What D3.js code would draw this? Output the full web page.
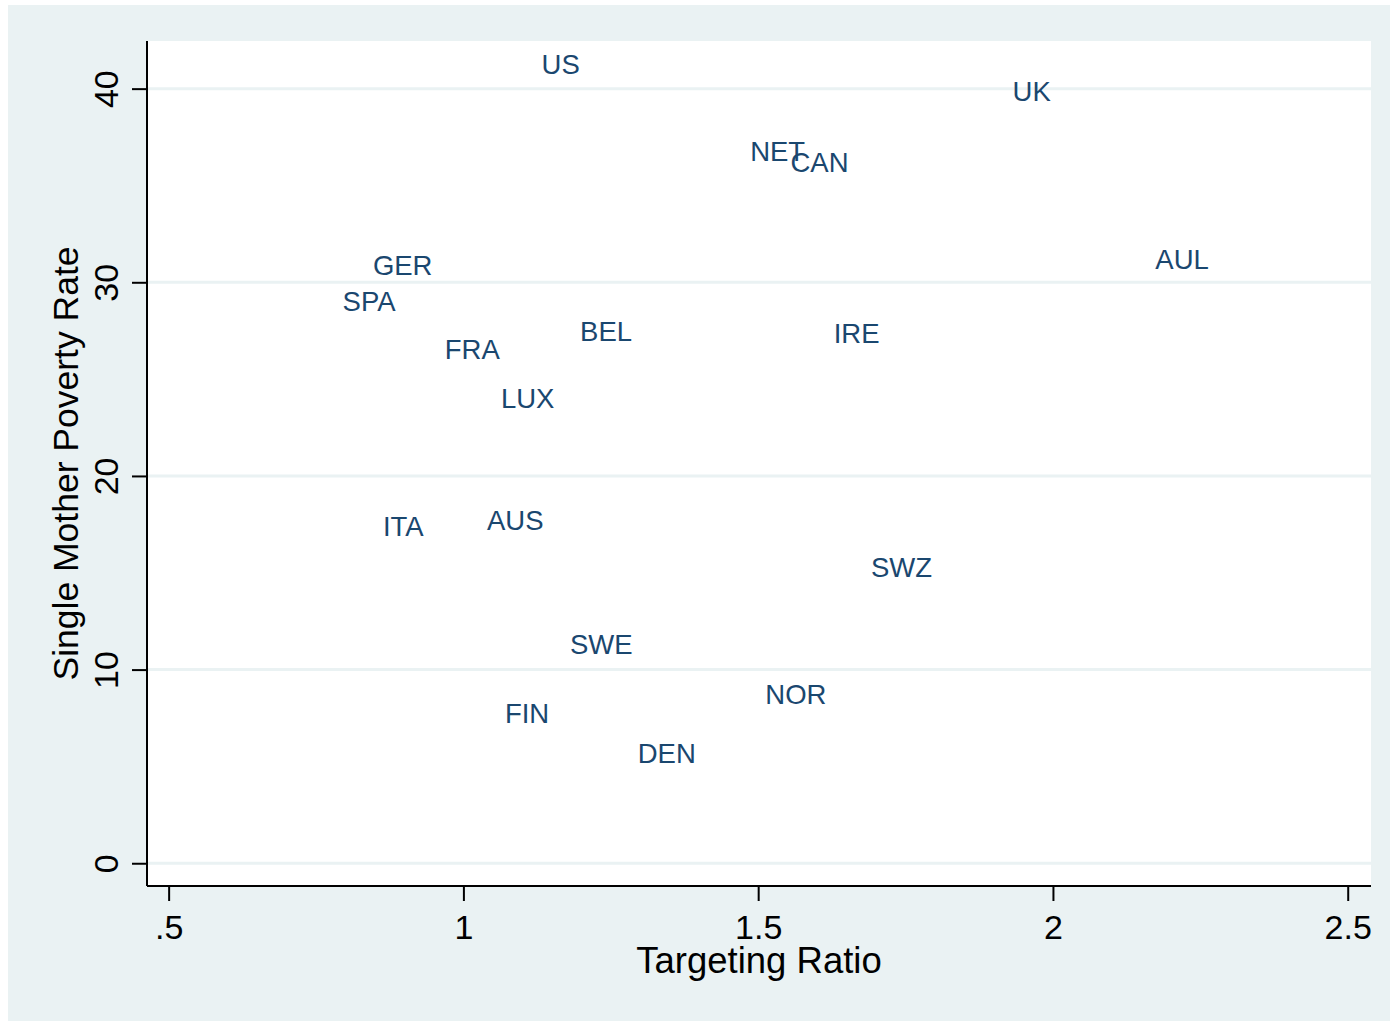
<!DOCTYPE html>
<html>
<head>
<meta charset="utf-8">
<script src="https://cdn.jsdelivr.net/npm/d3@7"></script>
<style>
  html, body { margin: 0; padding: 0; background: #ffffff; }
  svg { display: block; font-family: "Liberation Sans", Arial, Helvetica, sans-serif; }
</style>
</head>
<body>
<svg id="chart" width="1390" height="1021"></svg>
<script>
// Data
const countries = ["US","UK","NET","CAN","GER","SPA","FRA","LUX","BEL","AUL","IRE","ITA","AUS","SWZ","SWE","NOR","FIN","DEN"];
const targetingRatio = [1.165,1.964,1.533,1.604,0.897,0.840,1.015,1.109,1.242,2.219,1.667,0.898,1.088,1.743,1.234,1.564,1.108,1.345];
const povertyRate = [41.28,39.88,36.77,36.21,30.90,29.04,26.57,24.04,27.50,31.22,27.38,17.42,17.73,15.30,11.31,8.73,7.76,5.70];
const xTicks = [0.5,1,1.5,2,2.5];
const xTickLabels = [".5","1","1.5","2","2.5"];
const yTicks = [0,10,20,30,40];
const yTickLabels = ["0","10","20","30","40"];
const xTitle = "Targeting Ratio";
const yTitle = "Single Mother Poverty Rate";

const svg = d3.select("#chart");
const W = 1390, H = 1021;
const plot = {left: 147, top: 41, right: 1371, bottom: 886};

// Outer background
svg.append("rect").attr("x", 8).attr("y", 5).attr("width", W - 8).attr("height", H - 5).attr("fill", "#eaf2f3");
// Plot region
svg.append("rect").attr("x", plot.left).attr("y", plot.top)
  .attr("width", plot.right - plot.left).attr("height", plot.bottom - plot.top).attr("fill", "#ffffff");

const x = d3.scaleLinear().domain([0.4633, 2.5395]).range([plot.left, plot.right]);
const y = d3.scaleLinear().domain([-1.175, 42.46]).range([plot.bottom, plot.top]);

// Gridlines
svg.append("g").selectAll("line").data(yTicks).join("line")
  .attr("x1", plot.left).attr("x2", plot.right)
  .attr("y1", d => y(d)).attr("y2", d => y(d))
  .attr("stroke", "#eaf2f3").attr("stroke-width", 3);

// Y axis
const yAxis = svg.append("g").attr("transform", `translate(${plot.left},0)`)
  .call(d3.axisLeft(y).tickValues(yTicks).tickFormat((d,i) => yTickLabels[i]).tickSize(15).tickSizeOuter(0));
yAxis.select(".domain").attr("stroke", "#000").attr("stroke-width", 2)
  .attr("d", `M0,${plot.top}V${plot.bottom}`);
yAxis.selectAll(".tick line").attr("stroke", "#000").attr("stroke-width", 2);
yAxis.selectAll(".tick text")
  .attr("x", null).attr("dy", null)
  .attr("transform", `translate(${118 - plot.left},0) rotate(-90)`)
  .attr("text-anchor", "middle")
  .attr("font-size", 34).attr("fill", "#000")
  .attr("font-family", "Liberation Sans, Arial, sans-serif");

// X axis
const xAxis = svg.append("g").attr("transform", `translate(0,${plot.bottom})`)
  .call(d3.axisBottom(x).tickValues(xTicks).tickFormat((d,i) => xTickLabels[i]).tickSize(15).tickSizeOuter(0));
xAxis.select(".domain").attr("stroke", "#000").attr("stroke-width", 2)
  .attr("d", `M${plot.left},0H${plot.right}`);
xAxis.selectAll(".tick line").attr("stroke", "#000").attr("stroke-width", 2);
xAxis.selectAll(".tick text")
  .attr("y", 939 - plot.bottom).attr("dy", null)
  .attr("text-anchor", "middle")
  .attr("font-size", 34).attr("fill", "#000")
  .attr("font-family", "Liberation Sans, Arial, sans-serif");

// Axis titles
svg.append("text").attr("x", (plot.left + plot.right) / 2).attr("y", 973)
  .attr("text-anchor", "middle").attr("font-size", 36.5).attr("fill", "#000").text(xTitle);
svg.append("text").attr("transform", `translate(78,${(plot.top + plot.bottom) / 2}) rotate(-90)`)
  .attr("text-anchor", "middle").attr("font-size", 35.5).attr("fill", "#000").text(yTitle);

// Marker labels
const pts = countries.map((c, i) => ({c, tx: targetingRatio[i], pr: povertyRate[i]}));
svg.append("g").selectAll("text").data(pts).join("text")
  .attr("x", d => x(d.tx)).attr("y", d => y(d.pr))
  .attr("dy", "0.358em")
  .attr("text-anchor", "middle")
  .attr("font-size", 27.5).attr("fill", "#1a476f")
  .text(d => d.c);
</script>
</body>
</html>
